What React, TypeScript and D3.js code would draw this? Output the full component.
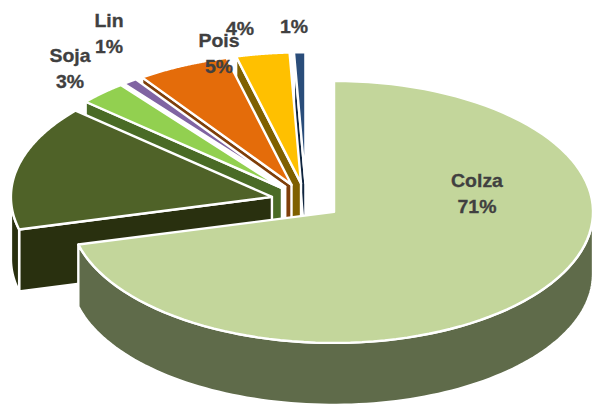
import React from "react";
import * as d3 from "d3";

const categories = ["Colza", "Tournesol", "Soja", "Lin", "Pois", "Feverole", "Autres"];
const shares = [71.0, 15.45, 2.95, 0.9, 5.7, 3.3, 0.7];
const topColors = ["#C3D69B", "#4F6228", "#92D050", "#8064A2", "#E46C0A", "#FFC000", "#2A4D7A"];
const wallColors = ["#5F6B4A", "#29300F", "#4A6B26", "#FFFFFF", "#7F3F0A", "#7F6000", "#10253F"];
const labelLines = [["Colza", "71%"], ["Soja", "3%"], ["Lin", "1%"], ["Pois", "5%"], ["4%"], ["1%"]];

const W = 593, H = 404;
const cx = 306.2, cy = 201, rx = 259, ry = 131, depth = 62, explode = 0.136;
const leftRx = [264, 261, 261, 261, 261, 261, 261];
const labelAnchors: [number, number][] = [[477, 187], [70, 62], [109, 27], [219, 47], [240, 35], [294, 33]];
const lineGap = 26.5;

type Pt = [number, number];
const sx = d3.scaleLinear().domain([-1, 1]).range([-rx, rx]);
const sy = d3.scaleLinear().domain([-1, 1]).range([-ry, ry]);
const polar = (a: Pt, t: number, k = 1, dy = 0, lx = rx): Pt => {
  const s = Math.sin(t);
  return [a[0] + k * (s < 0 ? (lx / rx) * sx(s) : sx(s)), a[1] - k * sy(Math.cos(t)) + dy];
};
const line = d3.line<Pt>();

const pie = d3.pie<number>().sort(null).value((d) => d);
const arcs = pie(shares);

function slicePaths(i: number) {
  const { startAngle: a0, endAngle: a1 } = arcs[i];
  const mid = (a0 + a1) / 2;
  const lx = leftRx[i];
  const apex = polar([cx, cy], mid, explode);
  const ts = d3.range(0, 101).map((j) => a0 + ((a1 - a0) * j) / 100);
  const top = line([apex, ...ts.map((t) => polar(apex, t, 1, 0, lx))])! + "Z";
  const start = polar(apex, a0, 1, 0, lx);
  const wall = line([apex, start, [start[0], start[1] + depth], [apex[0], apex[1] + depth]])! + "Z";
  const lo = Math.max(a0, Math.PI / 2), hi = Math.min(a1, (3 * Math.PI) / 2);
  let outer: string | null = null;
  if (hi > lo) {
    const os = d3.range(0, 101).map((j) => lo + ((hi - lo) * j) / 100);
    outer = line([...os.map((t) => polar(apex, t, 1, 0, lx)), ...os.slice().reverse().map((t) => polar(apex, t, 1, depth, lx))])! + "Z";
  }
  return { top, wall, outer };
}

const order = d3.range(categories.length).reverse().filter((i) => i !== 0).concat([0]);

export default function App() {
  return (
    <svg width={W} height={H} viewBox={`0 0 ${W} ${H}`} style={{ position: "absolute", left: 0, top: 0, background: "#fff" }}>
      {order.map((i) => {
        const p = slicePaths(i);
        return (
          <g key={categories[i]} stroke="#fff" strokeWidth={2.4} strokeLinejoin="round">
            {i !== 0 && <path d={p.wall} fill={wallColors[i]} />}
            {p.outer && <path d={p.outer} fill={wallColors[i]} />}
            <path d={p.top} fill={topColors[i]} />
          </g>
        );
      })}
      {labelLines.map((lines, i) => (
        <text
          key={i}
          transform={`translate(${labelAnchors[i][0]},0) scale(1.08,1)`}
          textAnchor="middle"
          fontFamily="'Liberation Sans', Arial, sans-serif"
          fontWeight="bold"
          fontSize={18}
          fill="#404040"
          stroke="#404040"
          strokeWidth={0.3}
        >
          {lines.map((s, j) => (
            <tspan key={j} x={0} y={labelAnchors[i][1] + j * lineGap}>{s}</tspan>
          ))}
        </text>
      ))}
    </svg>
  );
}
